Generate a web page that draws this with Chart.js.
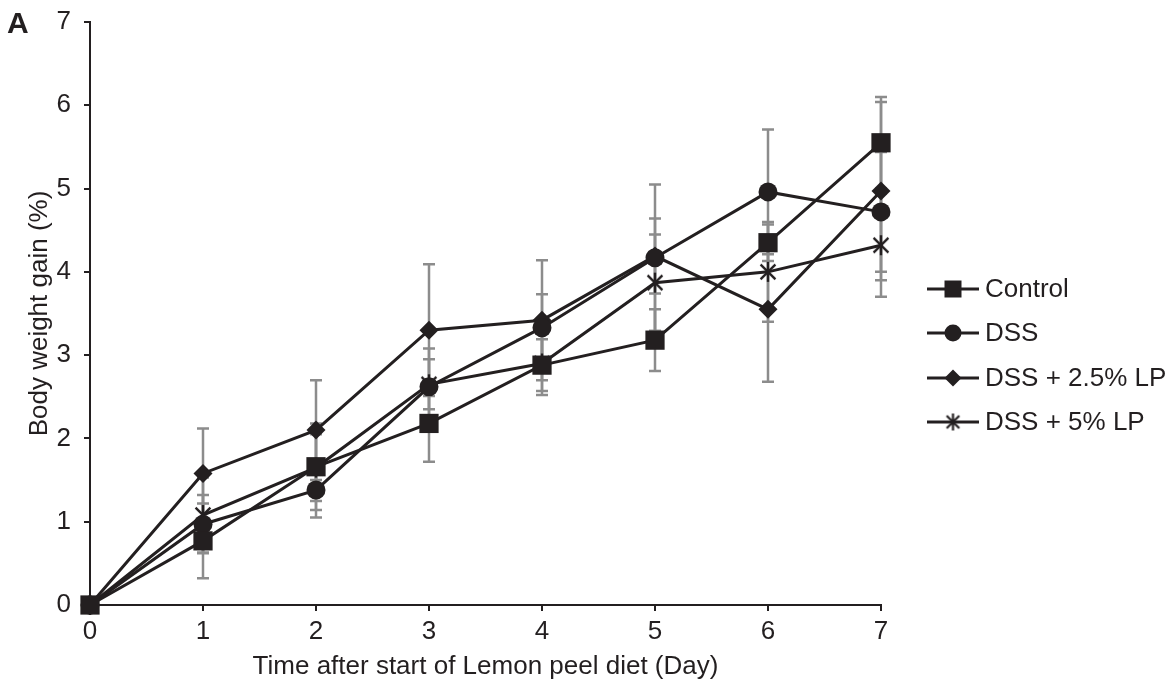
<!DOCTYPE html>
<html><head><meta charset="utf-8">
<script src="https://cdn.jsdelivr.net/npm/chart.js@4.4.0/dist/chart.umd.min.js"></script>
<style>html,body{margin:0;padding:0;background:#fff}#wrap{position:relative;width:1174px;height:689px}</style>
</head><body><div id="wrap"><canvas id="c" width="1174" height="689"></canvas></div>
<script>
// ---- data ----
const days = [0, 1, 2, 3, 4, 5, 6, 7];
const seriesNames = ['Control', 'DSS', 'DSS + 2.5% LP', 'DSS + 5% LP'];
const control   = [0, 0.77, 1.66, 2.18, 2.88, 3.18, 4.35, 5.55];
const controlSD = [0, 0.45, 0.52, 0.46, 0.31, 0.37, 0.22, 0.55];
const dss       = [0, 0.97, 1.38, 2.62, 3.33, 4.17, 4.96, 4.72];
const dssSD     = [0, 0.35, 0.33, 0.46, 0.40, 0.88, 0.75, 0.72];
const lp25      = [0, 1.58, 2.10, 3.30, 3.42, 4.19, 3.55, 4.97];
const lp25SD    = [0, 0.54, 0.60, 0.79, 0.72, 0.45, 0.87, 1.07];
const lp5       = [0, 1.08, 1.65, 2.65, 2.90, 3.87, 4.00, 4.32];
const lp5SD     = [0, 0.45, 0.40, 0.30, 0.38, 0.58, 0.60, 0.62];
const yTicks = [0, 1, 2, 3, 4, 5, 6, 7];
const xTitle = 'Time after start of Lemon peel diet (Day)';
const yTitle = 'Body weight gain (%)';
const panelLabel = 'A';

// ---- styles ----
const INK = '#231f20';
const ERR = '#8c8c8c';
const FONT = "'Liberation Sans', Arial, sans-serif";
const FS = 26;

function makeStar(size, lw) {
  const c = document.createElement('canvas');
  const s = size + 4;
  c.width = s; c.height = s;
  const g = c.getContext('2d');
  g.strokeStyle = INK; g.lineWidth = lw; g.lineCap = 'butt';
  const m = s / 2, r = size / 2;
  g.beginPath();
  g.moveTo(m, m - r); g.lineTo(m, m + r);
  const d = r * Math.SQRT1_2 * 1.05;
  g.moveTo(m - d, m - d); g.lineTo(m + d, m + d);
  g.moveTo(m + d, m - d); g.lineTo(m - d, m + d);
  g.stroke();
  return c;
}
const starImg = makeStar(20, 2.4);

const values = [control, dss, lp25, lp5];
const sds = [controlSD, dssSD, lp25SD, lp5SD];
const styles = ['rect', 'circle', 'rectRot', starImg];
const radii = [13.6, 9.5, 9.5, 10];

const datasets = seriesNames.map((name, i) => ({
  label: name,
  data: days.map((d, j) => ({x: d, y: values[i][j]})),
  borderColor: INK,
  backgroundColor: INK,
  borderWidth: 3,
  pointStyle: styles[i],
  pointRadius: radii[i],
  pointHoverRadius: radii[i],
  pointBorderWidth: 0,
  pointBackgroundColor: INK,
  pointBorderColor: INK,
  tension: 0,
  clip: false,
  errors: sds[i]
}));

const errorBars = {
  id: 'errorBars',
  beforeDatasetsDraw(chart) {
    const {ctx, scales: {x, y}} = chart;
    ctx.save();
    ctx.strokeStyle = ERR;
    ctx.lineWidth = 2.5;
    chart.data.datasets.forEach((ds) => {
      ds.data.forEach((p, j) => {
        const e = ds.errors[j];
        if (!e) return;
        const px = x.getPixelForValue(p.x);
        const top = y.getPixelForValue(p.y + e);
        const bot = y.getPixelForValue(p.y - e);
        ctx.beginPath();
        ctx.moveTo(px, top); ctx.lineTo(px, bot);
        ctx.moveTo(px - 6, top); ctx.lineTo(px + 6, top);
        ctx.moveTo(px - 6, bot); ctx.lineTo(px + 6, bot);
        ctx.stroke();
      });
    });
    ctx.restore();
  }
};

const customLegend = {
  id: 'customLegend',
  afterDraw(chart) {
    const {ctx} = chart;
    ctx.save();
    const x0 = 927, x1 = 979, xm = 953, tx = 985;
    const ys = [289, 333, 378, 422];
    chart.data.datasets.forEach((ds, i) => {
      const yy = ys[i];
      ctx.strokeStyle = INK; ctx.lineWidth = 3;
      ctx.beginPath(); ctx.moveTo(x0, yy); ctx.lineTo(x1, yy); ctx.stroke();
      ctx.fillStyle = INK;
      ctx.beginPath();
      if (i === 0) { ctx.rect(xm - 8.5, yy - 8.5, 17, 17); ctx.fill(); }
      else if (i === 1) { ctx.arc(xm, yy, 8.5, 0, Math.PI * 2); ctx.fill(); }
      else if (i === 2) { ctx.moveTo(xm, yy - 8.5); ctx.lineTo(xm + 8.5, yy); ctx.lineTo(xm, yy + 8.5); ctx.lineTo(xm - 8.5, yy); ctx.closePath(); ctx.fill(); }
      else { ctx.drawImage(makeStar(17, 2.2), xm - 10.5, yy - 10.5); }
      ctx.font = FS + 'px ' + FONT;
      ctx.textBaseline = 'middle';
      ctx.textAlign = 'left';
      ctx.fillText(ds.label, tx, yy + 1);
    });
    ctx.font = 'bold 30px ' + FONT;
    ctx.textBaseline = 'alphabetic';
    ctx.fillText(panelLabel, 7, 33);
    ctx.restore();
  }
};

new Chart(document.getElementById('c'), {
  type: 'line',
  data: {datasets},
  options: {
    responsive: false,
    animation: false,
    events: [],
    layout: {padding: {left: 0, right: 293, top: 22, bottom: 0}},
    plugins: {legend: {display: false}, tooltip: {enabled: false}, title: {display: false}},
    scales: {
      x: {
        type: 'linear', min: 0, max: 7,
        afterFit(s) { s.height = 84; s.paddingLeft = 0; s.paddingRight = 0; },
        afterBuildTicks(s) { s.ticks = days.map(v => ({value: v})); },
        ticks: {color: INK, font: {family: FONT, size: FS}, padding: 5, maxRotation: 0, autoSkip: false},
        grid: {display: true, drawOnChartArea: false, drawTicks: true, tickLength: 6, color: INK, lineWidth: 2},
        border: {display: true, color: INK, width: 2},
        title: {display: true, text: xTitle, color: INK, font: {family: FONT, size: FS}, padding: {top: 0, bottom: 7}}
      },
      y: {
        type: 'linear', min: 0, max: 7,
        afterFit(s) { s.width = 90; s.paddingTop = 0; s.paddingBottom = 0; },
        afterBuildTicks(s) { s.ticks = yTicks.map(v => ({value: v})); },
        ticks: {color: INK, font: {family: FONT, size: FS}, padding: 13, autoSkip: false},
        grid: {display: true, drawOnChartArea: false, drawTicks: true, tickLength: 6, color: INK, lineWidth: 2},
        border: {display: true, color: INK, width: 2},
        title: {display: true, text: yTitle, color: INK, font: {family: FONT, size: FS}, padding: {top: 24, bottom: 0}}
      }
    }
  },
  plugins: [errorBars, customLegend]
});
</script>
</body></html>
